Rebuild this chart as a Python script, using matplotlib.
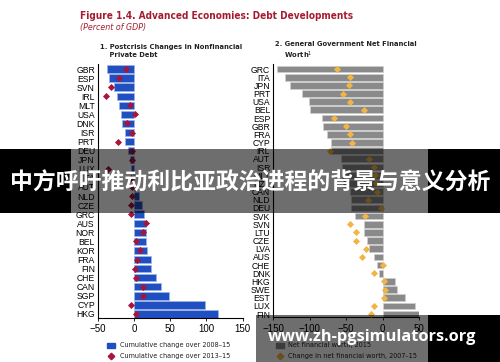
import matplotlib
matplotlib.use("Agg")
import matplotlib.pyplot as plt
from matplotlib.patches import Rectangle
from matplotlib.lines import Line2D

# ---------------- data ----------------
priv_countries = ["GBR", "ESP", "SVN", "IRL", "MLT", "USA", "DNK", "ISR", "PRT", "DEU",
                  "JPN", "LUX", "ITA", "AUT", "NLD", "CZE", "GRC", "AUS", "NOR", "BEL",
                  "KOR", "FRA", "FIN", "CHE", "CAN", "SGP", "CYP", "HKG"]
priv_change_2008_15 = [-37.7, -34, -28, -23, -21, -18, -17, -12, -12, -8.5,
                       -6, -3.5, -1, 1, 7.5, 10.5, 14, 16, 17, 17,
                       17.5, 23, 23, 30.5, 37, 48.8, 98.4, 116.6]
priv_change_2013_15 = [-11.4, -21, -32, -38, -5.5, 1.4, -9, -2.2, -22, -2.5,
                       -3, -36, -4, -3, -3, -4, -3.5, 16.5, 12.5, 2.5,
                       8.5, 4.5, 2, 3.2, 13, 13, -4.5, 2.5]

gov_countries = ["GRC", "ITA", "JPN", "PRT", "USA", "BEL", "ESP", "GBR", "FRA", "CYP",
                 "IRL", "AUT", "ISR", "MLT", "NZL", "CAN", "NLD", "DEU", "SVK", "SVN",
                 "LTU", "CZE", "LVA", "AUS", "CHE", "DNK", "HKG", "SWE", "EST", "LUX", "FIN"]
gov_nfw_2015 = [-145, -134, -127, -110, -101, -99, -83, -82, -76, -70,
                -71, -57, -56, -56, -54, -45, -43, -43, -37, -26,
                -25, -21, -18, -11, -7.5, -5, 17, 20, 31, 45, 50]
gov_change_2007_15 = [-62.6, -45, -46.5, -54.4, -44, -25, -66, -50, -44, -42,
                      -72, -18.7, -11, -10, -8.6, -7, -20, -2, -23.7, -44,
                      -36, -36, -22, -27.8, 0.5, -11, 2, 4, 2, -11, -15.5]

xticks_vals = [-50, 0, 50, 100, 150]
xticks_vals2 = [-150, -100, -50, 0, 50]

title_text = "Figure 1.4. Advanced Economies: Debt Developments"
subtitle_text = "(Percent of GDP)"
panel1_title = "1. Postcrisis Changes in Nonfinancial\n    Private Debt"
panel2_title = "2. General Government Net Financial\n    Worth$^1$"
leg1 = ["Cumulative change over 2008\u201315", "Cumulative change over 2013\u201315"]
leg2 = ["Net financial worth, 2015", "Change in net financial worth, 2007\u201315"]
banner_text = "中方呼吁推动利比亚政治进程的背景与意义分析"
watermark_text = "www.zh-pgsimulators.org"

# ---------------- style ----------------
plt.rcParams["font.family"] = ["Liberation Sans", "DejaVu Sans"]
COND = dict(family="DejaVu Sans", fontstretch="condensed")
BLUE = "#1f4fc0"
RED = "#a8143c"
GRAY = "#8a8a8a"
ORANGE = "#f2b545"
TITLE_RED = "#a51c30"

W, H = 500, 362
fig = plt.figure(figsize=(W / 100, H / 100), dpi=100)
fig.patch.set_facecolor("white")


def px_axes(x0, x1, ytop, ybot):
    return fig.add_axes([x0 / W, 1 - ybot / H, (x1 - x0) / W, (ybot - ytop) / H])


def style_ax(ax, n, xlim, ticks):
    ax.set_xlim(*xlim)
    ax.set_ylim(n - 0.6, -0.6)
    ax.set_xticks(ticks)
    ax.set_xticklabels([f"\u2212{abs(t)}" if t < 0 else str(t) for t in ticks], fontsize=7)
    ax.spines["top"].set_visible(False)
    ax.spines["right"].set_visible(False)
    ax.spines["left"].set_linewidth(0.8)
    ax.spines["bottom"].set_linewidth(0.8)
    ax.tick_params(axis="y", length=0, labelsize=6.2, pad=2)
    ax.tick_params(axis="x", length=2.5, width=0.6, direction="out", pad=2)
    ax.set_facecolor("none")


# Panel 1
ax1 = px_axes(97.7, 242.7, 63.6, 317.6)
y1 = list(range(len(priv_countries)))
ax1.barh(y1, priv_change_2008_15, height=0.82, color=BLUE, edgecolor="#9fb5e6",
         linewidth=0.5, zorder=2)
ax1.scatter(priv_change_2013_15, y1, marker="D", s=13, color=RED, zorder=3, linewidths=0)
ax1.set_yticks(y1)
ax1.set_yticklabels(priv_countries)
style_ax(ax1, len(priv_countries), (-50, 150), xticks_vals)

# Panel 2
ax2 = px_axes(273, 419, 64.1, 317.3)
y2 = list(range(len(gov_countries)))
ax2.barh(y2, gov_nfw_2015, height=0.82, color=GRAY, edgecolor="#cfcfcf",
         linewidth=0.5, zorder=2)
ax2.scatter(gov_change_2007_15, y2, marker="D", s=13, color=ORANGE, zorder=3, linewidths=0)
ax2.set_yticks(y2)
ax2.set_yticklabels(gov_countries)
style_ax(ax2, len(gov_countries), (-150, 50), xticks_vals2)

# Titles
fig.text(80 / W, 1 - 16 / H, title_text, fontsize=7.2, fontweight="bold", color=TITLE_RED,
         va="center", ha="left", **COND)
fig.text(80 / W, 1 - 27.5 / H, subtitle_text, fontsize=6.3, style="italic", color=TITLE_RED,
         va="center", ha="left", **COND)
fig.text(100 / W, 1 - 51 / H, panel1_title, fontsize=5.4, fontweight="bold", color="#222222",
         va="center", ha="left", linespacing=1.25, **COND)
fig.text(275 / W, 1 - 51 / H, panel2_title, fontsize=5.4, fontweight="bold", color="#222222",
         va="center", ha="left", linespacing=1.25, **COND)

# Legends
fig.add_artist(Rectangle((107 / W, 1 - 348 / H), 8 / W, 5 / H, transform=fig.transFigure,
                         color=BLUE))
fig.add_artist(Line2D([111 / W], [1 - 356 / H], marker="D", markersize=3.3, color=RED,
                      linestyle="none", transform=fig.transFigure))
fig.text(120 / W, 1 - 345.5 / H, leg1[0], fontsize=5.2, va="center", ha="left", color="#222222", **COND)
fig.text(120 / W, 1 - 356 / H, leg1[1], fontsize=5.2, va="center", ha="left", color="#222222", **COND)

fig.add_artist(Rectangle((276 / W, 1 - 348 / H), 8 / W, 5 / H, transform=fig.transFigure,
                         color=GRAY))
fig.add_artist(Line2D([280 / W], [1 - 356 / H], marker="D", markersize=3.3, color=ORANGE,
                      linestyle="none", transform=fig.transFigure))
fig.text(288 / W, 1 - 345.5 / H, leg2[0], fontsize=5.2, va="center", ha="left", color="#222222", **COND)
fig.text(288 / W, 1 - 356 / H, leg2[1], fontsize=5.2, va="center", ha="left", color="#222222", **COND)

# Banner overlay
def overlay(x0, x1, y0, y1, color, alpha, z=20):
    fig.add_artist(Rectangle((x0 / W, 1 - y1 / H), (x1 - x0) / W, (y1 - y0) / H,
                             transform=fig.transFigure, facecolor=color, alpha=alpha,
                             edgecolor="none", zorder=z))

overlay(0, 71, 149, 213, "black", 1.0)
overlay(71, 428, 149, 213, "black", 0.57)
overlay(428, 500, 149, 213, "black", 1.0)
fig.text(250 / W, 1 - 183 / H, banner_text, fontsize=16.5, fontweight="bold", color="white",
         ha="center", va="center", zorder=25,
         family=["Noto Sans CJK SC", "DejaVu Sans"])

overlay(256, 428, 315, 362, "black", 0.57)
overlay(428, 500, 315, 362, "black", 1.0)
fig.text(372 / W, 1 - 337 / H, watermark_text, fontsize=11.8, fontweight="bold", color="white",
         ha="center", va="center", zorder=25, family=["Open Sans", "DejaVu Sans"])

fig.savefig("out.png", dpi=100)
